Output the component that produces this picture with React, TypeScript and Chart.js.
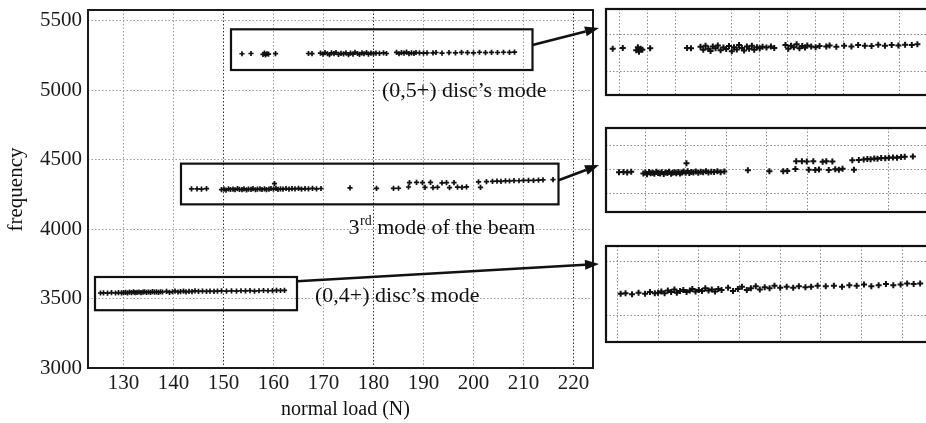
import React, { useEffect, useRef } from "react";
import { Chart, registerables } from "chart.js";

Chart.register(...registerables);

// ---------- data ----------
const loadTicks = [130, 140, 150, 160, 170, 180, 190, 200, 210, 220];
const freqTicks = [3000, 3500, 4000, 4500, 5000, 5500];
const darkLoadGrid = [150, 180, 220];

// (0,5+) disc's mode
const disc05Load = [
  153.7, 155.5, 157.9, 158.2, 158.4, 158.7, 159.0, 160.4, 167.0, 167.7,
  169.4, 169.9, 170.3, 170.8, 171.2, 171.6, 172.1, 172.5, 173.0, 173.5,
  174.0, 174.5, 175.0, 175.4, 175.9, 176.3, 176.8, 177.2, 177.7, 178.1,
  178.6, 179.0, 179.5, 180.0, 180.5, 181.2, 182.0, 182.6, 184.6, 185.1,
  185.6, 186.1, 186.6, 187.1, 187.6, 188.1, 188.5, 189.2, 190.0, 190.7,
  191.9, 192.5, 193.7, 195.1, 196.4, 197.6, 198.8, 200.0, 201.2, 202.4,
  203.6, 204.8, 206.0, 207.2, 208.2,
];
const disc05Freq = [
  5262, 5264, 5258, 5266, 5254, 5262, 5259, 5263, 5264, 5263,
  5267, 5259, 5270, 5262, 5256, 5268, 5263, 5271, 5258, 5265,
  5261, 5269, 5255, 5266, 5260, 5272, 5264, 5257, 5268, 5262,
  5270, 5259, 5266, 5263, 5267, 5265, 5268, 5264, 5272, 5262,
  5270, 5266, 5274, 5263, 5269, 5265, 5271, 5268, 5266, 5269,
  5268, 5271, 5267, 5270, 5268, 5272, 5270, 5269, 5273, 5270,
  5272, 5271, 5273, 5272, 5274,
];

// 3rd mode of the beam
const beam3Load = [
  143.6, 144.7, 145.6, 146.6,
  149.6, 150.1, 150.5, 151.0, 151.4, 151.9, 152.3, 152.8, 153.2, 153.7,
  154.1, 154.6, 155.0, 155.5, 155.9, 156.4, 156.8, 157.3, 157.7, 158.2,
  158.6, 159.1, 159.5, 160.0, 160.2, 160.5, 160.9, 161.4, 161.9, 162.5,
  163.1, 163.7, 164.3, 165.0, 165.6, 166.3, 167.0, 167.8, 168.6, 169.5,
  175.3, 180.6, 184.0, 185.0, 187.0, 187.2, 188.6, 189.8, 190.3, 191.4,
  191.9, 192.8, 193.7, 194.6, 195.2, 196.1, 196.8, 197.7, 198.6, 201.0,
  201.4, 202.6, 203.8, 204.7, 205.5, 206.4, 207.2, 208.1, 209.1, 210.0,
  211.0, 212.0, 213.0, 213.9, 215.9,
];
const beam3Freq = [
  4289, 4290, 4288, 4291,
  4284, 4288, 4281, 4290, 4285, 4287, 4283, 4291, 4286, 4284,
  4289, 4282, 4288, 4286, 4291, 4283, 4287, 4289, 4285, 4290,
  4284, 4288, 4292, 4287, 4327, 4293, 4286, 4290, 4288, 4292,
  4287, 4291, 4289, 4293, 4288, 4291, 4290, 4293, 4289, 4292,
  4297, 4293, 4293, 4294, 4303, 4335, 4336, 4334, 4300, 4336,
  4298, 4301, 4333, 4335, 4299, 4334, 4302, 4300, 4304, 4340,
  4300, 4341, 4343, 4345, 4344, 4347, 4346, 4349, 4348, 4350,
  4351, 4350, 4353, 4354, 4356,
];

// (0,4+) disc's mode
const disc04Load = [
  125.4, 126.0, 126.8, 127.6, 128.4, 129.0, 129.6, 130.0,
  130.4, 130.8, 131.2, 131.6, 132.0, 132.3, 132.7, 133.1, 133.5, 133.9,
  134.2, 134.6, 135.0, 135.4, 135.8, 136.2, 136.6, 137.0, 137.4, 137.8,
  138.6, 139.2, 139.8, 140.3, 140.9, 141.4, 142.0, 142.5, 143.1, 143.7,
  144.3, 145.0, 145.8, 146.6, 147.3, 148.1, 148.8, 149.6,
  150.6, 151.6, 152.6, 153.5, 154.4, 155.3, 156.2, 157.1, 158.0, 158.9,
  159.8, 160.6, 161.4, 162.2,
];
const disc04Freq = [
  3540, 3541, 3539, 3542, 3540, 3543, 3541, 3542,
  3544, 3541, 3546, 3543, 3548, 3542, 3545, 3547, 3543, 3546,
  3549, 3544, 3547, 3545, 3550, 3546, 3548, 3544, 3549, 3547,
  3551, 3545, 3549, 3553, 3547, 3550, 3554, 3548, 3552, 3550,
  3555, 3551, 3553, 3551, 3554, 3552, 3553, 3555,
  3554, 3555, 3553, 3556, 3555, 3557, 3554, 3556, 3558, 3556,
  3557, 3559, 3558, 3559,
];

// inset grid values
const inset1LoadGrid = [155, 160, 165, 175, 180, 185, 190, 195, 205];
const inset1FreqGrid = [5200, 5300];
const inset2LoadGrid = [150, 160, 170, 180, 190, 210];
const inset2FreqGrid = [4200, 4300, 4400];
const inset3LoadGrid = [125, 130, 135, 140, 145, 150, 155, 160];
const inset3FreqGrid = [3500, 3600];

const labelDisc05 = "(0,5+) disc\u2019s mode";
const labelBeam3Num = "3";
const labelBeam3Sup = "rd";
const labelBeam3Rest = " mode of the beam";
const labelDisc04 = "(0,4+) disc\u2019s mode";
const xTitle = "normal load (N)";
const yTitle = "frequency";

// ---------- layout / style ----------
const W = 926;
const H = 423;
const SERIF = "'Liberation Serif', 'Times New Roman', serif";
const INSET_LEFT = 605;

const toPts = (xs: number[], ys: number[]) =>
  xs.slice(0, Math.min(xs.length, ys.length)).map((v, i) => ({ x: v, y: ys[i] }));

const series = [
  { load: disc05Load, freq: disc05Freq },
  { load: beam3Load, freq: beam3Freq },
  { load: disc04Load, freq: disc04Freq },
];

// annotation boxes in data units
const boxes = [
  { x0: 151.5, x1: 211.8, y0: 5145, y1: 5438 },
  { x0: 141.5, x1: 217.0, y0: 4178, y1: 4471 },
  { x0: 124.3, x1: 164.7, y0: 3416, y1: 3655 },
];

const insets = [
  { canvasTop: 3, canvasH: 98, xMin: 152.5, xMax: 211.17, yMin: 5136, yMax: 5370, xGrid: inset1LoadGrid, yGrid: inset1FreqGrid, s: 0, tipDy: 20, fromFreq: 5325 },
  { canvasTop: 122, canvasH: 96, xMin: 140.4, xMax: 221.1, yMin: 4121, yMax: 4476, xGrid: inset2LoadGrid, yGrid: inset2FreqGrid, s: 1, tipDy: 38, fromFreq: 4351 },
  { canvasTop: 240, canvasH: 108, xMin: 123.6, xMax: 163.9, yMin: 3450, yMax: 3629, xGrid: inset3LoadGrid, yGrid: inset3FreqGrid, s: 2, tipDy: 19, fromFreq: 3624 },
];

function drawArrow(ctx: CanvasRenderingContext2D, x0: number, y0: number, x1: number, y1: number) {
  const ang = Math.atan2(y1 - y0, x1 - x0);
  const len = 14;
  const half = 5;
  const bx = x1 - Math.cos(ang) * len;
  const by = y1 - Math.sin(ang) * len;
  ctx.beginPath();
  ctx.moveTo(x0, y0);
  ctx.lineTo(bx, by);
  ctx.lineWidth = 2.6;
  ctx.strokeStyle = "#111";
  ctx.stroke();
  ctx.beginPath();
  ctx.moveTo(x1, y1);
  ctx.lineTo(bx - Math.sin(ang) * half, by + Math.cos(ang) * half);
  ctx.lineTo(bx + Math.sin(ang) * half, by - Math.cos(ang) * half);
  ctx.closePath();
  ctx.fillStyle = "#111";
  ctx.fill();
}

const mainOverlay = {
  id: "mainOverlay",
  afterDraw(chart: any) {
    const { ctx, chartArea: a } = chart;
    const x = chart.scales.x;
    const y = chart.scales.y;
    ctx.save();
    // frame
    ctx.strokeStyle = "#1a1a1a";
    ctx.lineWidth = 2;
    ctx.strokeRect(a.left, a.top, a.right - a.left, a.bottom - a.top);
    // boxes
    ctx.lineWidth = 2.2;
    ctx.strokeStyle = "#111";
    boxes.forEach((b) => {
      const l = x.getPixelForValue(b.x0);
      const r = x.getPixelForValue(b.x1);
      const t = y.getPixelForValue(b.y1);
      const bt = y.getPixelForValue(b.y0);
      ctx.strokeRect(l, t, r - l, bt - t);
    });
    // arrows
    insets.forEach((ins) => {
      const b = boxes[ins.s];
      const sx = x.getPixelForValue(b.x1);
      const sy = y.getPixelForValue(ins.fromFreq);
      drawArrow(ctx, sx, sy, INSET_LEFT - 6, ins.canvasTop + 5 + ins.tipDy);
    });
    // labels
    ctx.fillStyle = "#111";
    ctx.textBaseline = "alphabetic";
    ctx.textAlign = "left";
    ctx.font = `22px ${SERIF}`;
    ctx.fillText(labelDisc05, x.getPixelForValue(181.7), y.getPixelForValue(4951));
    ctx.fillText(labelDisc04, x.getPixelForValue(168.3), y.getPixelForValue(3475));
    let cx = x.getPixelForValue(175.0);
    const cy = y.getPixelForValue(3964);
    ctx.fillText(labelBeam3Num, cx, cy);
    cx += ctx.measureText(labelBeam3Num).width + 0.5;
    ctx.font = `14px ${SERIF}`;
    ctx.fillText(labelBeam3Sup, cx, cy - 9);
    cx += ctx.measureText(labelBeam3Sup).width;
    ctx.font = `22px ${SERIF}`;
    ctx.fillText(labelBeam3Rest, cx, cy);
    // axis titles
    ctx.font = `20px ${SERIF}`;
    ctx.textAlign = "center";
    ctx.fillText(xTitle, 345.5, 415);
    ctx.save();
    ctx.translate(22, 189.5);
    ctx.rotate(-Math.PI / 2);
    ctx.font = `21px ${SERIF}`;
    ctx.fillText(yTitle, 0, 0);
    ctx.restore();
    ctx.restore();
  },
};

const insetFrame = {
  id: "insetFrame",
  afterDraw(chart: any) {
    const { ctx, chartArea: a } = chart;
    ctx.save();
    ctx.strokeStyle = "#111";
    ctx.lineWidth = 2.2;
    ctx.strokeRect(a.left, a.top, a.right - a.left, a.bottom - a.top);
    ctx.restore();
  },
};

function MainChart() {
  const ref = useRef<HTMLCanvasElement>(null);
  useEffect(() => {
    if (!ref.current) return;
    const chart = new Chart(ref.current, {
      type: "scatter",
      data: {
        datasets: series.map((s) => ({
          data: toPts(s.load, s.freq),
          pointStyle: "cross",
          pointRadius: 2.6,
          pointBorderWidth: 1.7,
          borderColor: "#111",
          backgroundColor: "#111",
          showLine: false,
        })),
      },
      options: {
        animation: false,
        responsive: false,
        devicePixelRatio: 1,
        layout: { padding: { left: 0, top: 10, right: W - 593, bottom: 0 } },
        plugins: { legend: { display: false }, tooltip: { enabled: false } },
        scales: {
          x: {
            type: "linear",
            min: 122.9,
            max: 223.9,
            afterBuildTicks: (s: any) => {
              s.ticks = loadTicks.map((v) => ({ value: v }));
            },
            afterFit: (s: any) => {
              s.height = 55;
              s.paddingLeft = 0;
              s.paddingRight = 0;
            },
            grid: {
              drawTicks: false,
              lineWidth: 1,
              color: (c: any) => (c.tick && darkLoadGrid.includes(c.tick.value) ? "#333" : "#9c9c9c"),
            },
            border: { display: false, dash: [1.5, 2] },
            ticks: {
              font: { family: SERIF, size: 21 },
              color: "#1a1a1a",
              padding: 3,
              maxRotation: 0,
              autoSkip: false,
              callback: (v: any) => String(v),
            },
          },
          y: {
            type: "linear",
            min: 3000,
            max: 5577,
            afterBuildTicks: (s: any) => {
              s.ticks = freqTicks.map((v) => ({ value: v }));
            },
            afterFit: (s: any) => {
              s.width = 88;
              s.paddingTop = 0;
              s.paddingBottom = 0;
            },
            grid: { drawTicks: false, lineWidth: 1, color: "#9c9c9c" },
            border: { display: false, dash: [1.5, 2] },
            ticks: {
              font: { family: SERIF, size: 21 },
              color: "#1a1a1a",
              padding: 6,
              autoSkip: false,
              callback: (v: any) => String(v),
            },
          },
        },
      },
      plugins: [mainOverlay],
    } as any);
    return () => chart.destroy();
  }, []);
  return (
    <canvas
      ref={ref}
      width={W}
      height={H}
      style={{ position: "absolute", left: 0, top: 0, width: W, height: H }}
    />
  );
}

function InsetChart({ cfg }: { cfg: (typeof insets)[number] }) {
  const ref = useRef<HTMLCanvasElement>(null);
  const cw = 340;
  useEffect(() => {
    if (!ref.current) return;
    const s = series[cfg.s];
    const chart = new Chart(ref.current, {
      type: "scatter",
      data: {
        datasets: [
          {
            data: toPts(s.load, s.freq),
            pointStyle: "cross",
            pointRadius: 3,
            pointBorderWidth: 2,
            borderColor: "#111",
            backgroundColor: "#111",
          },
        ],
      },
      options: {
        animation: false,
        responsive: false,
        devicePixelRatio: 1,
        layout: { padding: { left: 5, top: 5, bottom: 5, right: 0 } },
        plugins: { legend: { display: false }, tooltip: { enabled: false } },
        scales: {
          x: {
            type: "linear",
            min: cfg.xMin,
            max: cfg.xMax,
            afterBuildTicks: (sc: any) => {
              sc.ticks = cfg.xGrid.map((v) => ({ value: v }));
            },
            afterFit: (sc: any) => {
              sc.height = 0;
              sc.paddingLeft = 0;
              sc.paddingRight = 0;
            },
            grid: { drawTicks: false, lineWidth: 1, color: "#8a8a8a" },
            border: { display: false, dash: [1.5, 2] },
            ticks: { display: false },
          },
          y: {
            type: "linear",
            min: cfg.yMin,
            max: cfg.yMax,
            afterBuildTicks: (sc: any) => {
              sc.ticks = cfg.yGrid.map((v) => ({ value: v }));
            },
            afterFit: (sc: any) => {
              sc.width = 0;
              sc.paddingTop = 0;
              sc.paddingBottom = 0;
            },
            grid: { drawTicks: false, lineWidth: 1, color: "#8a8a8a" },
            border: { display: false, dash: [1.5, 2] },
            ticks: { display: false },
          },
        },
      },
      plugins: [insetFrame],
    } as any);
    return () => chart.destroy();
  }, []);
  return (
    <canvas
      ref={ref}
      width={cw}
      height={cfg.canvasH}
      style={{ position: "absolute", left: INSET_LEFT - 5, top: cfg.canvasTop, width: cw, height: cfg.canvasH }}
    />
  );
}

export default function App() {
  return (
    <div
      style={{
        position: "fixed",
        left: 0,
        top: 0,
        width: W,
        height: H,
        overflow: "hidden",
        background: "#fff",
      }}
    >
      <MainChart />
      {insets.map((c, i) => (
        <InsetChart key={i} cfg={c} />
      ))}
    </div>
  );
}
